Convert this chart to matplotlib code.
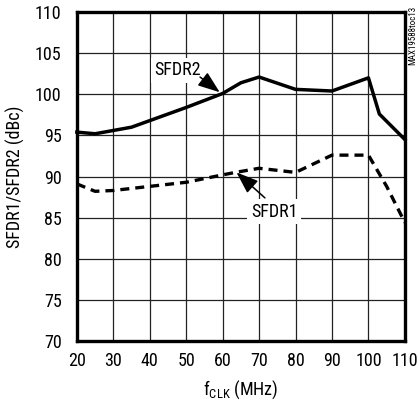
import matplotlib
matplotlib.use("Agg")
import matplotlib.pyplot as plt
from matplotlib import font_manager

fams = set(f.name for f in font_manager.fontManager.ttflist)
base = 'Liberation Sans'
for cand in ['Liberation Sans Narrow', 'Roboto Condensed', 'Open Sans Condensed', 'Arial Narrow']:
    if cand in fams:
        base = cand
        break
plt.rcParams['font.family'] = [base, 'DejaVu Sans']

# Data
sfdr2_x = [20, 25, 35, 45, 50, 60, 65, 70, 80, 90, 100, 103, 110]
sfdr2_y = [95.4, 95.2, 96.0, 97.6, 98.4, 100.1, 101.4, 102.1, 100.6, 100.4, 102.0, 97.6, 94.5]
sfdr1_x = [20, 25, 30, 40, 50, 60, 63.5, 70, 80, 90, 100, 105, 110]
sfdr1_y = [89.1, 88.2, 88.3, 88.8, 89.3, 90.2, 90.5, 91.0, 90.5, 92.6, 92.6, 88.8, 84.4]
xticks = [20, 30, 40, 50, 60, 70, 80, 90, 100, 110]
yticks = [70, 75, 80, 85, 90, 95, 100, 105, 110]

fig = plt.figure(figsize=(4.2, 4.03), dpi=100)
ax = fig.add_axes([0.183, 0.154, 0.781, 0.816])
ax.set_xlim(20, 110)
ax.set_ylim(70, 110)
ax.set_xticks(xticks)
ax.set_yticks(yticks)
ax.grid(True, color='#222222', linewidth=0.9)
ax.tick_params(length=0, labelsize=13)
ax.tick_params(axis='y', pad=11)
ax.tick_params(axis='x', pad=8)
for s in ax.spines.values():
    s.set_linewidth(2.4)

ax.plot(sfdr2_x, sfdr2_y, color='black', linewidth=2.5, solid_joinstyle='round', clip_on=False, zorder=3)
ax.plot(sfdr1_x, sfdr1_y, color='black', linewidth=2.4, linestyle=(0, (2.7, 1.8)), clip_on=False, zorder=3)

astyle = dict(arrowstyle='-|>,head_length=1.35,head_width=0.5', color='black', lw=1.1,
              shrinkA=0, shrinkB=0, mutation_scale=10)
box = dict(boxstyle='square,pad=0.2', fc='white', ec='none')
ax.text(47.7, 102.9, 'SFDR2', fontsize=13, ha='center', va='center', zorder=4, bbox=box)
ax.annotate('', xy=(59.2, 100.25), xytext=(53.8, 102.1), arrowprops=astyle, zorder=4)
ax.text(74.1, 85.7, 'SFDR1', fontsize=13, ha='center', va='center', zorder=4, bbox=box)
ax.annotate('', xy=(63.8, 90.5), xytext=(71.6, 87.4), arrowprops=astyle, zorder=4)

ax.set_ylabel('SFDR1/SFDR2 (dBc)', fontsize=13, labelpad=7)
ax.set_xlabel(r'f$_{\mathregular{CLK}}$ (MHz)', fontsize=13, labelpad=6)

fig.text(0.982, 0.985, 'MAX19588toc13', rotation=90, fontsize=6.5, ha='center', va='top')

fig.savefig('out.png', dpi=100)
